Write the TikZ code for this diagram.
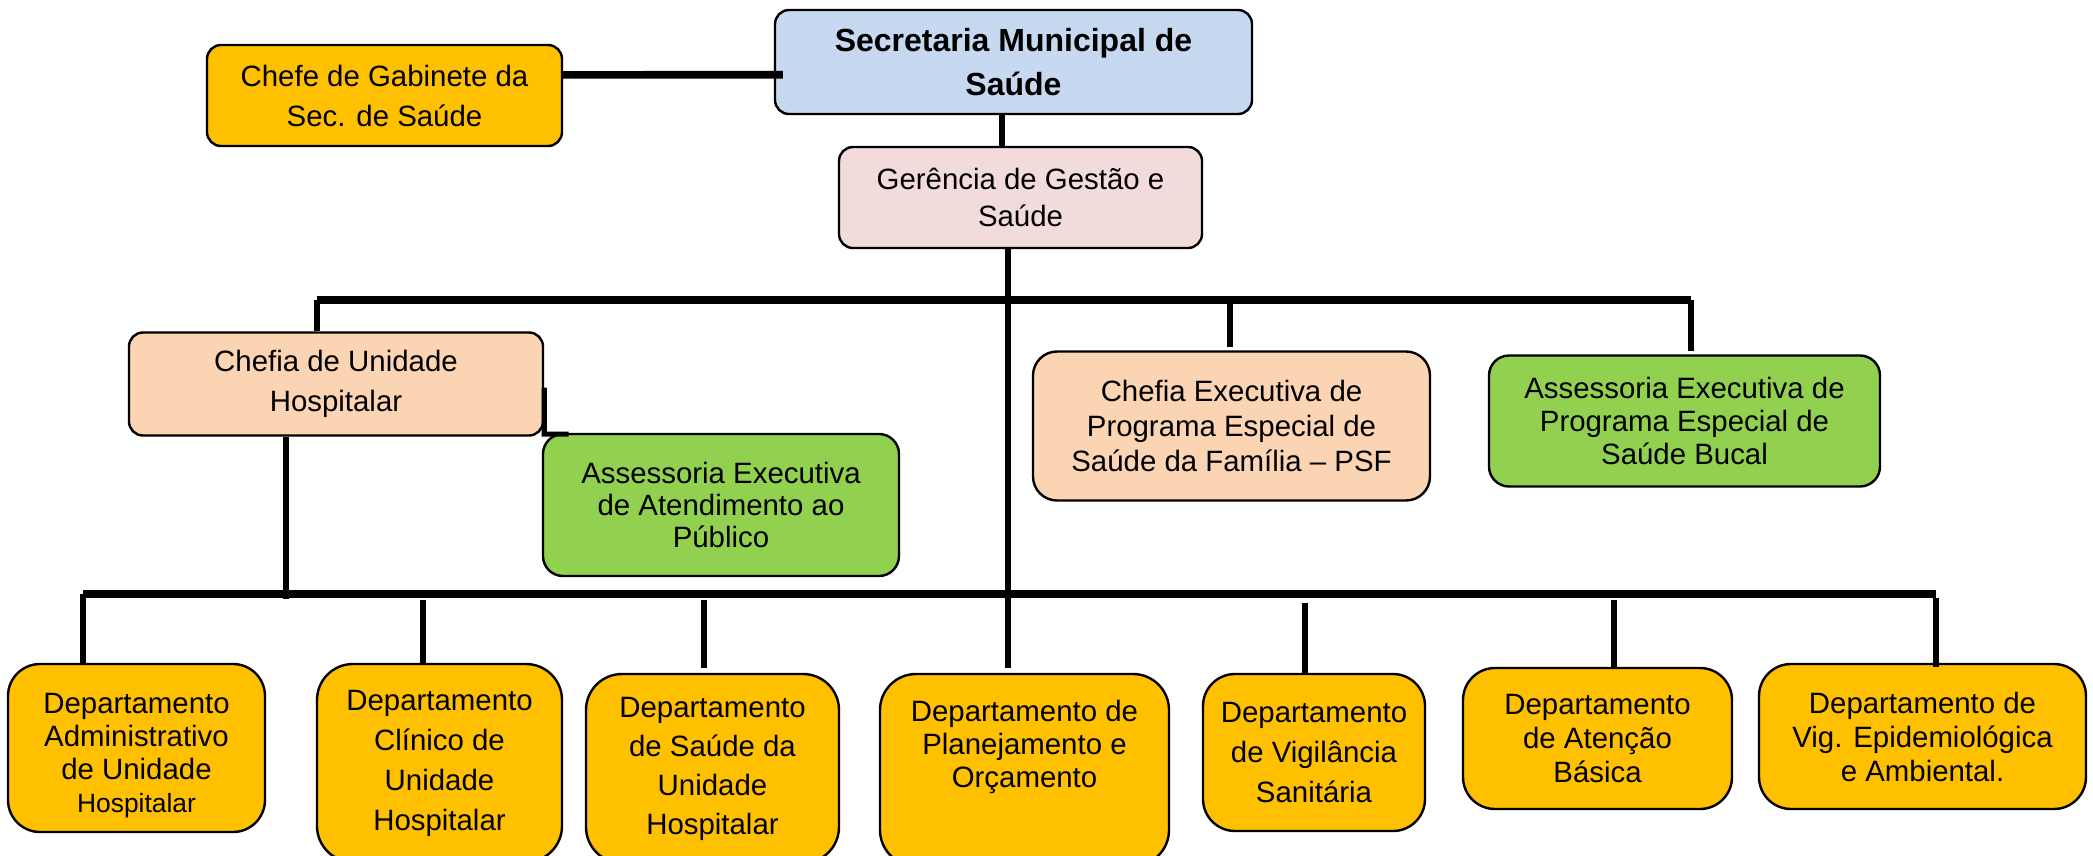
\documentclass[tikz,border=0pt]{standalone}
\usepackage{fontspec}
\setmainfont{Liberation Sans}
\usetikzlibrary{calc}
\definecolor{cblue}{HTML}{C6D9F1}
\definecolor{corange}{HTML}{FFC000}
\definecolor{cpink}{HTML}{F2DCDB}
\definecolor{cpeach}{HTML}{FBD4B4}
\definecolor{cgreen}{HTML}{92D050}
\newcommand{\fsz}[1]{\fontsize{14.7}{#1}\selectfont}
\begin{document}
\begin{tikzpicture}[x=0.5pt,y=-0.5pt,
  box/.style={draw=black, line width=1.2pt, inner sep=0pt, align=center, rounded corners=#1},
  box/.default=6pt,
  barline/.style={line width=3.7pt, black},
  vline/.style={line width=3.3pt, black}]
\useasboundingbox (0,0) rectangle (2093,856);

% top level
\node[box=7pt, fill=cblue, minimum width=238.5pt, minimum height=52pt, font=\fontsize{16}{22}\selectfont\bfseries] (sec) at (1013.5,62) {Secretaria Municipal de\\Saúde};
\node[box=7pt, fill=corange, minimum width=177.5pt, minimum height=50.5pt, font=\fsz{20}] (chefe) at (384.5,95.5) {Chefe de Gabinete da\\Sec. de Saúde};
\node[box=7pt, fill=cpink, minimum width=181.5pt, minimum height=50.5pt, font=\fsz{18.5}] (ger) at (1020.5,197.5) {Gerência de Gestão e\\Saúde};

% second level
\node[box=7pt, fill=cpeach, minimum width=207pt, minimum height=51.5pt, font=\fsz{20}] (chu) at (336,384) {Chefia de Unidade\\Hospitalar};
\node[box=10pt, fill=cgreen, minimum width=178pt, minimum height=71pt, font=\fsz{16}] (aat) at (721,505) {Assessoria Executiva\\de Atendimento ao\\Público};
\node[box=12pt, fill=cpeach, minimum width=198.5pt, minimum height=74.5pt, font=\fsz{17.5}] (psf) at (1231.5,426) {Chefia Executiva de\\Programa Especial de\\Saúde da Família – PSF};
\node[box=10pt, fill=cgreen, minimum width=195.5pt, minimum height=65.5pt, font=\fsz{16.5}] (buc) at (1684.5,421) {Assessoria Executiva de\\Programa Especial de\\Saúde Bucal};

% departments
\node[box=16pt, fill=corange, minimum width=128.5pt, minimum height=84pt, font=\fsz{16.5}] (dadm) at (136.5,748) {\rule{0pt}{17.5pt}Departamento\\Administrativo\\de Unidade\\{\fontsize{13.2}{16}\selectfont Hospitalar}};
\node[box=18pt, fill=corange, minimum width=122.5pt, minimum height=99pt, font=\fsz{20}] (dcli) at (439.5,763) {Departamento\\Clínico de\\Unidade\\Hospitalar};
\node[box=18pt, fill=corange, minimum width=126.5pt, minimum height=94.5pt, font=\fsz{19.5}] (dsau) at (712.5,768.5) {Departamento\\de Saúde da\\Unidade\\Hospitalar};
\node[box=18pt, fill=corange, minimum width=144.5pt, minimum height=96pt, font=\fsz{16.5}] (dpla) at (1024.5,770) {Departamento de\\Planejamento e\\Orçamento\\[10pt]~};
\node[box=16pt, fill=corange, minimum width=111pt, minimum height=78.5pt, font=\fsz{20}] (dvig) at (1314,752.5) {Departamento\\de Vigilância\\Sanitária};
\node[box=16pt, fill=corange, minimum width=134.5pt, minimum height=70.5pt, font=\fsz{17}] (date) at (1597.5,738.5) {Departamento\\de Atenção\\Básica};
\node[box=16pt, fill=corange, minimum width=163.5pt, minimum height=72.5pt, font=\fsz{17}] (depi) at (1922.5,736.5) {Departamento de\\Vig. Epidemiológica\\e Ambiental.};

% junction coordinates
\coordinate (tbL) at (317,300);
\coordinate (tbM) at (1008,300);
\coordinate (tbP) at (1230,300);
\coordinate (tbR) at (1691,300);
\coordinate (bbL) at (83,594);
\coordinate (bbH) at (286,599);
\coordinate (bbM) at (1008,600);
\coordinate (bbR) at (1936,594);
\coordinate (sg) at (1002,0);
\coordinate (lk) at (566,0);
\coordinate (x2) at (423,600);
\coordinate (x3) at (704,600);
\coordinate (x5) at (1305,603);
\coordinate (x6) at (1614,600);
\coordinate (x7) at (1936,598);

% connectors
\draw[line width=3.8pt] ($(chefe.north east)!0.3!(chefe.south east)$) -- ([xshift=4.5pt]$(sec.north west)!0.62!(sec.south west)$);
\draw[vline] (sec.south -| sg) -- (ger.north -| sg);
\draw[vline] (ger.south -| tbM) -- (bbM);
\draw[barline] (tbL) -- (tbR);
\draw[vline] (tbL) -- (chu.north -| tbL);
\draw[vline] (tbP) -- ([yshift=1.5pt]psf.north -| tbP);
\draw[vline] (tbR) -- ([yshift=1.5pt]buc.north -| tbR);
\draw[line width=2.6pt, line cap=rect] ($(chu.north east)!0.56!(chu.south east)$) -- ([yshift=1.3pt]chu.south east) -- ([yshift=1.3pt]chu.south east -| lk);
\draw[vline] (chu.south -| bbH) -- (bbH);
\draw[barline] (bbL) -- (bbR);
\draw[vline] (bbL) -- (dadm.north -| bbL);
\draw[vline] (x2) -- ([yshift=-1pt]dcli.north -| x2);
\draw[vline] (x3) -- ([yshift=2.5pt]dsau.north -| x3);
\draw[vline] (bbM) -- ([yshift=2.5pt]dpla.north -| bbM);
\draw[vline] (x5) -- (dvig.north -| x5);
\draw[vline] (x6) -- (date.north -| x6);
\draw[vline] (x7) -- ([yshift=-2pt]depi.north -| x7);
\end{tikzpicture}
\end{document}
